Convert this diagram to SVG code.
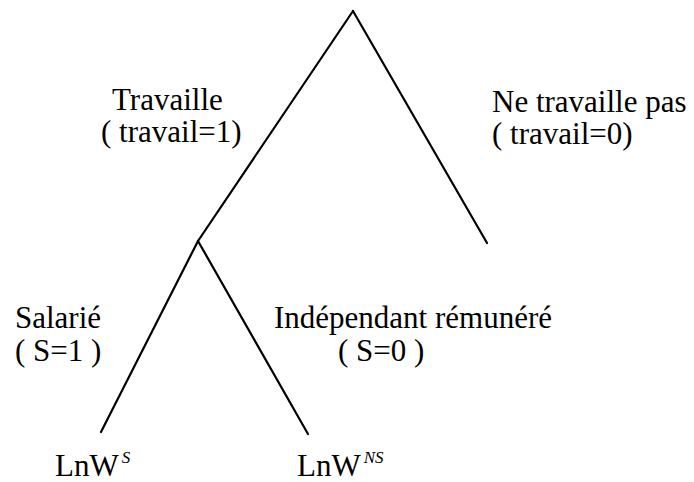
<svg xmlns="http://www.w3.org/2000/svg" width="694" height="482" viewBox="0 0 694 482">
<style>
text{font-family:'Liberation Serif','Times New Roman',Times,serif;font-size:31px;fill:#000}
.sup{font-size:17px;font-style:italic}
line{stroke:#000;stroke-width:2.2;stroke-linecap:round}
</style>
<rect width="694" height="482" fill="#fff"/>
<g id="connectors">
<line x1="353" y1="11" x2="198" y2="241"/>
<line x1="353" y1="11" x2="487" y2="243"/>
<line x1="198" y1="241" x2="101" y2="432"/>
<line x1="198" y1="241" x2="308" y2="434"/>
</g>
<g id="travaille"><text x="112" y="110">Travaille</text><text x="101" y="142">( travail=1)</text></g>
<g id="ne-travaille-pas"><text x="492" y="112">Ne travaille pas</text><text x="492" y="144">( travail=0)</text></g>
<g id="salarie"><text x="15" y="328">Salarié</text><text x="15" y="361">( S=1 )</text></g>
<g id="independant"><text x="274" y="328">Indépendant rémunéré</text><text x="338" y="361">( S=0 )</text></g>
<g id="lnws"><text x="55" y="476">LnW<tspan class="sup" dx="3" dy="-13">S</tspan></text></g>
<g id="lnwns"><text x="297" y="476">LnW<tspan class="sup" dx="3" dy="-13">NS</tspan></text></g>
</svg>
